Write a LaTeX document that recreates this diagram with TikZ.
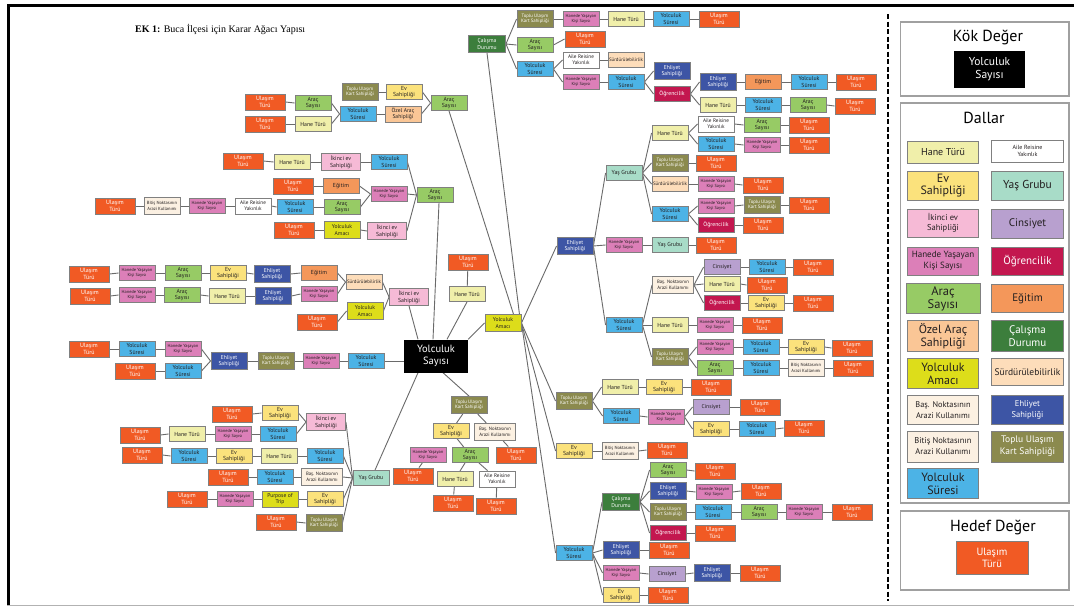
\documentclass[tikz,border=0pt]{standalone}
\usepackage{fontspec}
\setmainfont{PT Sans}
\newfontfamily\titlefont{Liberation Serif}
\pgfdeclarelayer{paper}
\pgfdeclarelayer{bg}
\pgfsetlayers{paper,bg,main}

% category colours
\definecolor{cUT}{HTML}{F15A24}
\definecolor{cHT}{HTML}{F0EFAA}
\definecolor{cEV}{HTML}{FBE27C}
\definecolor{cYG}{HTML}{A8DCC8}
\definecolor{cIK}{HTML}{F6BAD6}
\definecolor{cCN}{HTML}{B8A0CF}
\definecolor{cHY}{HTML}{DC7FB8}
\definecolor{cOG}{HTML}{C3174F}
\definecolor{cAS}{HTML}{97CB65}
\definecolor{cEG}{HTML}{F4975A}
\definecolor{cOZ}{HTML}{FAC696}
\definecolor{cCD}{HTML}{3C7E3C}
\definecolor{cYA}{HTML}{DDDD1A}
\definecolor{cSD}{HTML}{FDDDBA}
\definecolor{cBN}{HTML}{FCF1E2}
\definecolor{cEH}{HTML}{3D55A5}
\definecolor{cBT}{HTML}{FBF0E2}
\definecolor{cTU}{HTML}{8B8A4E}
\definecolor{cYS}{HTML}{4CB3E6}
\definecolor{bord}{HTML}{808080}
\definecolor{lnc}{HTML}{6A6A6A}
\definecolor{txt}{HTML}{231F20}
\definecolor{boxline}{HTML}{A0A0A0}

% labels of the categories
\newcommand\txUT{Ulaşım\\Türü}
\newcommand\txHT{Hane Türü}
\newcommand\txAR{Aile Reisine\\Yakınlık}
\newcommand\txEV{Ev\\Sahipliği}
\newcommand\txYG{Yaş Grubu}
\newcommand\txIK{İkinci ev\\Sahipliği}
\newcommand\txCN{Cinsiyet}
\newcommand\txHY{Hanede Yaşayan\\Kişi Sayısı}
\newcommand\txOG{Öğrencilik}
\newcommand\txAS{Araç\\Sayısı}
\newcommand\txEG{Eğitim}
\newcommand\txOZ{Özel Araç\\Sahipliği}
\newcommand\txCD{Çalışma\\Durumu}
\newcommand\txYA{Yolculuk\\Amacı}
\newcommand\txSD{Sürdürülebilirlik}
\newcommand\txBN{Baş. Noktasının\\Arazi Kullanımı}
\newcommand\txEH{Ehliyet\\Sahipliği}
\newcommand\txBT{Bitiş Noktasının\\Arazi Kullanımı}
\newcommand\txTU{Toplu Ulaşım\\Kart Sahipliği}
\newcommand\txYS{Yolculuk\\Süresi}
\newcommand\txPT{Purpose of\\Trip}

% tree node: style, name, x, y
\newcommand\putnode[4]{\node[#1] (#2) at (#3,#4) {\csname tx#1\endcsname};}
% legend node: style, name, x, y, width, height, font size, line skip
\newcommand\lgn[8]{\node[#1, minimum width=#5pt, minimum height=#6pt, font=\fontsize{#7}{#8}\selectfont] (#2) at (#3,#4) {\csname tx#1\endcsname};}

\tikzset{
  bx/.style={draw=bord, line width=0.9pt, inner sep=0pt, align=center,
    minimum width=36pt, minimum height=15pt, text=txt},
  UT/.style={bx, fill=cUT, text=white, minimum width=40pt, minimum height=16pt, font=\fontsize{6}{6.6}\selectfont},
  HT/.style={bx, fill=cHT, font=\fontsize{5.8}{6.4}\selectfont},
  AR/.style={bx, fill=white, minimum height=16pt, font=\fontsize{5.2}{5.8}\selectfont},
  EV/.style={bx, fill=cEV, font=\fontsize{5.8}{6.2}\selectfont},
  YG/.style={bx, fill=cYG, font=\fontsize{5.8}{6.4}\selectfont},
  IK/.style={bx, fill=cIK, minimum width=39pt, minimum height=17pt, font=\fontsize{5.8}{6.4}\selectfont},
  CN/.style={bx, fill=cCN, font=\fontsize{5.6}{6.2}\selectfont},
  HY/.style={bx, fill=cHY, font=\fontsize{4.4}{5}\selectfont},
  OG/.style={bx, fill=cOG, text=white, font=\fontsize{5.8}{6.4}\selectfont},
  AS/.style={bx, fill=cAS, font=\fontsize{5.8}{6.2}\selectfont},
  EG/.style={bx, fill=cEG, font=\fontsize{5.8}{6.4}\selectfont},
  OZ/.style={bx, fill=cOZ, minimum height=16pt, font=\fontsize{5.6}{6.2}\selectfont},
  CD/.style={bx, fill=cCD, text=white, minimum width=37pt, minimum height=17pt, font=\fontsize{5.6}{6.2}\selectfont},
  YA/.style={bx, fill=cYA, minimum height=17pt, font=\fontsize{5.6}{6.2}\selectfont},
  PT/.style={YA, minimum height=16pt},
  SD/.style={bx, fill=cSD, font=\fontsize{4.9}{5.4}\selectfont},
  BN/.style={bx, fill=cBN, minimum width=41pt, minimum height=17pt, font=\fontsize{4.8}{5.5}\selectfont},
  EH/.style={bx, fill=cEH, text=white, minimum height=17pt, font=\fontsize{5.6}{6.2}\selectfont},
  BT/.style={bx, fill=cBT, minimum height=17pt, font=\fontsize{4.5}{5.3}\selectfont},
  TU/.style={bx, fill=cTU, text=white, minimum height=17pt, font=\fontsize{4.8}{5.5}\selectfont},
  YS/.style={bx, fill=cYS, font=\fontsize{5.8}{6.2}\selectfont},
  rootbox/.style={fill=black, text=white, inner sep=0pt, align=center,
    minimum width=64pt, minimum height=33pt, font=\fontsize{10.5}{12}\selectfont},
  ln/.style={draw=lnc, line width=0.9pt},
  panel/.style={draw=boxline, line width=1.1pt},
  paneltitle/.style={font=\fontsize{16}{18}\selectfont, text=black, inner sep=0pt},
}

\begin{document}
\begin{tikzpicture}[x=1pt, y=-1pt]
\useasboundingbox (0,0) rectangle (1074,606);
\begin{pgfonlayer}{paper}
\fill[white] (0,0) rectangle (1074,606);
\end{pgfonlayer}

% page frame and separator
\draw[black, line width=3pt] (7.3,5.5) -- (1074,5.5);
\draw[black, line width=2.7pt] (8.7,4) -- (8.7,605);
\draw[gray!60, line width=1pt] (7.3,605) -- (1074,605);
\draw[black, line width=2pt, dash pattern=on 5pt off 2.5pt] (887.5,14) -- (887.5,601);

% title
\node[anchor=west, inner sep=0pt, font=\titlefont\fontsize{10}{12}\selectfont] (title) at (135,29)
  {\textbf{EK 1:} Buca İlçesi için Karar Ağacı Yapısı};

% root
\node[rootbox] (R) at (436,356) {Yolculuk\\Sayısı};

% ---- upper left branch
\putnode{AS}{a1}{449}{103}
\putnode{EV}{a2}{404}{92}
\putnode{OZ}{a3}{403}{114}
\putnode{TU}{a4}{360}{92}
\putnode{YS}{a5}{358}{114}
\putnode{AS}{a6}{313}{103}
\putnode{HT}{a7}{313}{124}
\putnode{UT}{a8}{265}{102}
\putnode{UT}{a9}{265}{124}

% ---- Araç Sayısı branch
\putnode{AS}{b1}{435}{195}
\putnode{YS}{b2}{389}{162}
\putnode{HY}{b3}{389}{194}
\putnode{IK}{b4}{387}{231}
\putnode{IK}{b5}{341}{162}
\putnode{HT}{b6}{292}{162}
\putnode{UT}{b7}{243}{161}
\putnode{EG}{b8}{341}{186}
\putnode{UT}{b9}{293}{186}
\putnode{AS}{b10}{342}{207}
\putnode{YS}{b11}{295}{207}
\putnode{AR}{b12}{253}{206}
\putnode{HY}{b13}{207}{206}
\putnode{BT}{b14}{162}{206}
\putnode{UT}{b15}{115}{206}
\putnode{YA}{b16}{342}{230}
\putnode{UT}{b17}{294}{230}

% ---- İkinci ev branch
\putnode{IK}{c1}{409}{297}
\putnode{SD}{c2}{364}{282}
\putnode{YA}{c3}{365}{311}
\putnode{EG}{c4}{319}{273}
\putnode{HY}{c5}{319}{294}
\putnode{EH}{c6}{272}{274}
\putnode{EV}{c7}{228}{273}
\putnode{AS}{c8}{183}{273}
\putnode{HY}{c9}{137}{273}
\putnode{UT}{c10}{89}{274}
\putnode{EH}{c11}{273}{296}
\putnode{HT}{c12}{227}{296}
\putnode{AS}{c13}{182}{295}
\putnode{HY}{c14}{137}{295}
\putnode{UT}{c15}{90}{296}
\putnode{UT}{c16}{317}{322}

% ---- Yolculuk Süresi branch (left)
\putnode{YS}{d1}{366}{361}
\putnode{HY}{d2}{321}{361}
\putnode{TU}{d3}{276}{361}
\putnode{EH}{d4}{229}{361}
\putnode{HY}{d5}{183}{349}
\putnode{YS}{d6}{183}{371}
\putnode{YS}{d7}{137}{349}
\putnode{UT}{d8}{89}{349}
\putnode{UT}{d9}{135}{371}

% ---- Yaş Grubu branch
\putnode{YG}{e1}{371}{478}
\putnode{IK}{e2}{326}{422}
\putnode{YS}{e3}{325}{456}
\putnode{BN}{e4}{322}{477}
\putnode{EV}{e5}{325}{499}
\putnode{TU}{e6}{324}{523}
\putnode{EV}{e7}{280}{413}
\putnode{YS}{e8}{278}{434}
\putnode{UT}{e9}{232}{414}
\putnode{HY}{e10}{233}{434}
\putnode{HT}{e11}{187}{434}
\putnode{UT}{e12}{140}{435}
\putnode{HT}{e13}{279}{456}
\putnode{EV}{e14}{234}{456}
\putnode{YS}{e15}{189}{456}
\putnode{UT}{e16}{142}{455}
\putnode{YS}{e17}{275}{477}
\putnode{UT}{e18}{228}{477}
\putnode{PT}{e19}{280}{499}
\putnode{HY}{e20}{235}{499}
\putnode{UT}{e21}{187}{499}
\putnode{UT}{e22}{276}{522}

% ---- Toplu Ulaşım branch (below root)
\putnode{TU}{f1}{469}{405}
\putnode{EV}{f2}{451}{431}
\putnode{BN}{f3}{495}{432}
\putnode{AS}{f4}{470}{455}
\putnode{HT}{f5}{455}{479}
\putnode{AR}{f6}{497}{479}
\putnode{UT}{f7}{453}{503}
\putnode{UT}{f8}{496}{506}
\putnode{UT}{f9}{516}{455}
\putnode{HY}{f10}{428}{455}
\putnode{UT}{f11}{413}{476}

% ---- Hane Türü above root
\putnode{HT}{n1}{467}{294}
\putnode{UT}{n2}{468}{262}

% ---- Yolculuk Amacı hub
\putnode{YA}{g0}{503}{323}

% ---- Çalışma Durumu branch
\putnode{CD}{h1}{487}{44}
\putnode{TU}{h2}{535}{19}
\putnode{AS}{h3}{535}{45}
\putnode{YS}{h4}{535}{69}
\putnode{HY}{h5}{581}{19}
\putnode{HT}{h6}{626}{19}
\putnode{YS}{h7}{671}{19}
\putnode{UT}{h8}{719}{19}
\putnode{UT}{h9}{585}{39}
\putnode{AR}{h10}{581}{60}
\putnode{HY}{h11}{581}{82}
\putnode{SD}{h12}{626}{60}
\putnode{YS}{h13}{626}{82}
\putnode{EH}{h14}{672}{71}
\putnode{OG}{h15}{672}{94}
\putnode{EH}{h16}{718}{82}
\putnode{HT}{h17}{718}{105}
\putnode{EG}{h18}{763}{82}
\putnode{YS}{h19}{809}{82}
\putnode{UT}{h20}{856}{82}
\putnode{YS}{h21}{763}{105}
\putnode{AS}{h22}{808}{105}
\putnode{UT}{h23}{855}{106}

% ---- Ehliyet Sahipliği branch
\putnode{EH}{i1}{575}{246}
\putnode{YG}{i2}{624}{173}
\putnode{HY}{i3}{624}{245}
\putnode{YS}{i4}{624}{325}
\putnode{HT}{i5}{670}{133}
\putnode{TU}{i6}{670}{163}
\putnode{SD}{i7}{670}{184}
\putnode{YS}{i8}{670}{214}
\putnode{AR}{i9}{716}{124}
\putnode{YS}{i10}{716}{144}
\putnode{AS}{i11}{762}{125}
\putnode{UT}{i12}{809}{125}
\putnode{HY}{i13}{762}{145}
\putnode{UT}{i14}{809}{145}
\putnode{UT}{i15}{716}{163}
\putnode{HY}{i16}{716}{184}
\putnode{UT}{i17}{763}{185}
\putnode{HY}{i18}{716}{206}
\putnode{OG}{i19}{716}{225}
\putnode{TU}{i20}{762}{205}
\putnode{UT}{i21}{809}{205}
\putnode{UT}{i22}{763}{225}
\putnode{YG}{i23}{670}{245}
\putnode{UT}{i24}{716}{245}
\putnode{BN}{i25}{673}{285}
\putnode{HT}{i26}{670}{325}
\putnode{TU}{i27}{670}{357}
\putnode{CN}{i28}{722}{267}
\putnode{HT}{i29}{722}{284}
\putnode{OG}{i30}{722}{303}
\putnode{YS}{i31}{767}{267}
\putnode{UT}{i32}{813}{267}
\putnode{UT}{i33}{767}{285}
\putnode{EV}{i34}{766}{303}
\putnode{UT}{i35}{813}{303}
\putnode{HY}{i36}{715}{325}
\putnode{UT}{i37}{762}{325}
\putnode{HY}{i38}{715}{347}
\putnode{AS}{i39}{715}{368}
\putnode{YS}{i40}{761}{347}
\putnode{EV}{i41}{806}{347}
\putnode{UT}{i42}{852}{348}
\putnode{YS}{i43}{761}{368}
\putnode{BT}{i44}{806}{368}
\putnode{UT}{i45}{853}{368}

% ---- Toplu Ulaşım branch (right)
\putnode{TU}{j1}{574}{401}
\putnode{HT}{j2}{620}{387}
\putnode{YS}{j3}{621}{416}
\putnode{EV}{j4}{664}{387}
\putnode{UT}{j5}{711}{387}
\putnode{HY}{j6}{666}{417}
\putnode{CN}{j7}{711}{407}
\putnode{EV}{j8}{711}{429}
\putnode{UT}{j9}{760}{407}
\putnode{YS}{j10}{757}{429}
\putnode{UT}{j11}{804}{428}

% ---- Ev Sahipliği branch
\putnode{EV}{k1}{574}{451}
\putnode{BT}{k2}{620}{451}
\putnode{UT}{k3}{667}{450}

% ---- Yolculuk Süresi branch (right)
\putnode{YS}{m1}{574}{553}
\putnode{CD}{m2}{621}{502}
\putnode{EH}{m3}{621}{550}
\putnode{HY}{m4}{621}{573}
\putnode{EV}{m5}{621}{595}
\putnode{AS}{m6}{668}{470}
\putnode{EH}{m7}{668}{491}
\putnode{TU}{m8}{668}{512}
\putnode{OG}{m9}{668}{533}
\putnode{UT}{m10}{715}{471}
\putnode{HY}{m11}{714}{492}
\putnode{UT}{m12}{761}{491}
\putnode{YS}{m13}{713}{512}
\putnode{AS}{m14}{759}{512}
\putnode{HY}{m15}{804}{512}
\putnode{UT}{m16}{852}{512}
\putnode{UT}{m17}{715}{533}
\putnode{UT}{m18}{669}{550}
\putnode{CN}{m19}{667}{574}
\putnode{EH}{m20}{712}{573}
\putnode{UT}{m21}{760}{573}
\putnode{UT}{m22}{668}{595}

% ---- connectors
\begin{pgfonlayer}{bg}
% branches growing to the right
\foreach \ndA/\ndB in {h1/h2,h1/h3,h1/h4,h2/h5,h5/h6,h6/h7,h7/h8,h3/h9,h4/h10,h4/h11,h10/h12,
  h11/h13,h13/h14,h13/h15,h15/h16,h15/h17,h16/h18,h18/h19,h19/h20,h17/h21,h21/h22,h22/h23,
  i1/i2,i1/i3,i1/i4,i2/i5,i2/i6,i2/i7,i2/i8,i5/i9,i5/i10,i9/i11,i11/i12,i10/i13,i13/i14,
  i6/i15,i7/i16,i16/i17,i8/i18,i8/i19,i18/i20,i20/i21,i19/i22,i3/i23,i23/i24,i4/i25,i4/i26,
  i4/i27,i25/i28,i25/i29,i25/i30,i28/i31,i31/i32,i29/i33,i30/i34,i34/i35,i26/i36,i36/i37,
  i27/i38,i27/i39,i38/i40,i40/i41,i41/i42,i39/i43,i43/i44,i44/i45,
  j1/j2,j1/j3,j2/j4,j4/j5,j3/j6,j6/j7,j6/j8,j7/j9,j8/j10,j10/j11,
  k1/k2,k2/k3,
  m1/m2,m1/m3,m1/m4,m1/m5,m2/m6,m2/m7,m2/m8,m2/m9,m6/m10,m7/m11,m11/m12,m8/m13,m13/m14,
  m14/m15,m15/m16,m9/m17,m3/m18,m4/m19,m19/m20,m20/m21,m5/m22,
  g0/i1,g0/j1,g0/k1,g0/m1}
  \draw[ln] (\ndA.east) -- (\ndB.west);
% branches growing to the left
\foreach \ndA/\ndB in {a1/a2,a1/a3,a2/a4,a3/a5,a5/a6,a5/a7,a6/a8,a7/a9,
  b1/b2,b1/b3,b1/b4,b2/b5,b5/b6,b6/b7,b3/b8,b3/b10,b8/b9,b10/b11,b11/b12,b12/b13,b13/b14,
  b14/b15,b4/b16,b16/b17,
  c1/c2,c1/c3,c2/c4,c2/c5,c4/c6,c6/c7,c7/c8,c8/c9,c9/c10,c5/c11,c11/c12,c12/c13,c13/c14,
  c14/c15,c3/c16,
  d1/d2,d2/d3,d3/d4,d4/d5,d4/d6,d5/d7,d7/d8,d6/d9,
  e1/e2,e1/e3,e1/e4,e1/e5,e1/e6,e2/e7,e2/e8,e7/e9,e8/e10,e10/e11,e11/e12,e3/e13,e13/e14,
  e14/e15,e15/e16,e4/e17,e17/e18,e5/e19,e19/e20,e20/e21,e6/e22}
  \draw[ln] (\ndA.west) -- (\ndB.east);
% branches growing downwards
\foreach \ndA/\ndB in {f1/f2,f1/f3,f2/f4,f4/f5,f4/f6,f5/f7,f6/f8,f3/f9,f10/f11,n1/n2}
  \draw[ln] (\ndA) -- (\ndB);
% root links
\draw[ln] ([xshift=-3pt]R.north) -- ([xshift=4pt]b1.south);
\draw[ln] ([xshift=-18pt]R.north) -- (c1.south);
\draw[ln] ([xshift=11pt]R.north) -- (n1.south);
\draw[ln] (R.north east) -- (g0.west);
\draw[ln] (R.west |- d1) -- (d1.east);
\draw[ln] ([xshift=-18pt]R.south) -- ([xshift=4pt]e1.north);
\draw[ln] ([xshift=7pt]R.south) -- (f1.north);
% links into the Yolculuk Amacı hub from above
\draw[ln] (h1.south) -- ([xshift=-2pt]g0.north east);
\draw[ln] (a1.south) -- ([xshift=-8pt]g0.north east);
\end{pgfonlayer}

% ---- key panels
\draw[panel] (900.7,22) rectangle (1069,96);
\node[paneltitle] (kokt) at (988,37) {Kök Değer};
\node[rootbox, minimum width=71pt, minimum height=37pt, font=\fontsize{11.5}{13}\selectfont] (kokb) at (989.5,69.5) {Yolculuk\\Sayısı};

\draw[panel] (900.7,103) rectangle (1069,503);
\node[paneltitle] (dalt) at (984,118) {Dallar};
\lgn{HT}{L1}{943}{152}{71}{22}{10}{11}
\lgn{AR}{L2}{1027.5}{151}{72}{22}{6}{7}
\lgn{EV}{L3}{943}{185.5}{71}{29}{12}{12.5}
\lgn{YG}{L4}{1027.5}{185.5}{72}{29}{11.5}{12}
\lgn{IK}{L5}{943}{223}{71}{28}{8.5}{10}
\lgn{CN}{L6}{1027.5}{223.5}{72}{29}{11}{12}
\lgn{HY}{L7}{943}{261}{71}{28}{9}{10.5}
\lgn{OG}{L8}{1027.5}{261}{72}{28}{11}{12}
\lgn{AS}{L9}{943}{298.5}{74}{30}{12.5}{13}
\lgn{EG}{L10}{1027.5}{298.5}{72}{28}{11}{12}
\lgn{OZ}{L11}{943}{336}{71}{31}{12}{13}
\lgn{CD}{L12}{1027.5}{336}{72}{31}{11}{12.5}
\lgn{YA}{L13}{943}{373.5}{71}{30}{12}{13}
\lgn{SD}{L14}{1027.5}{372}{72}{27}{9.5}{11}
\lgn{BN}{L15}{943}{410}{71}{29}{8.3}{10.5}
\lgn{EH}{L16}{1027.5}{410}{72}{29}{8.5}{10.5}
\lgn{BT}{L17}{943}{446.5}{71}{31}{8.5}{11}
\lgn{TU}{L18}{1027.5}{446.5}{72}{31}{9.5}{12}
\lgn{YS}{L19}{943}{483.5}{71}{30}{12}{13}

\draw[panel] (900.7,511) rectangle (1069,590);
\node[paneltitle] (hedt) at (993,527) {Hedef Değer};
\lgn{UT}{L20}{992}{558}{72}{33}{10.5}{12}
\end{tikzpicture}
\end{document}
